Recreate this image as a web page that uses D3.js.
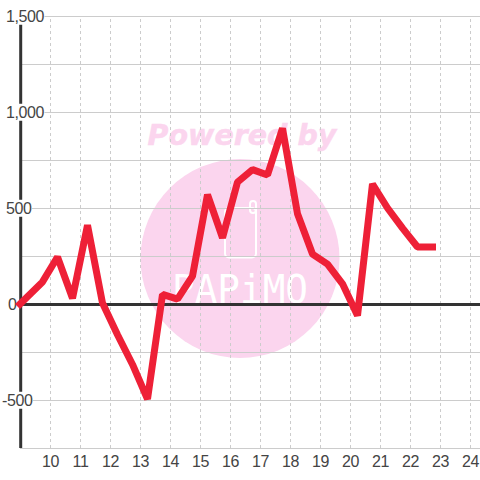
<!DOCTYPE html>
<html><head><meta charset="utf-8">
<script src="https://cdn.jsdelivr.net/npm/d3@7/dist/d3.min.js"></script>
<style>html,body{margin:0;padding:0;background:#fff}svg{display:block}text{font-family:"Liberation Sans",Arial,sans-serif}</style>
</head><body><svg id="c" width="480" height="480"></svg>
<script>
const hours=[9,9.75,10.25,10.75,11.25,11.75,12.25,12.75,13.25,13.75,14.25,14.75,15.25,15.75,16.25,16.75,17.25,17.75,18.25,18.75,19.25,19.75,20.25,20.75,21.25,21.75,22.25,22.75];
const values=[0,115,245,30,410,5,-160,-315,-495,50,25,145,570,345,635,700,672,915,470,260,208,105,-60,625,500,395,297,297];
const xTicks=[10,11,12,13,14,15,16,17,18,19,20,21,22,23,24];
const yGrid=[1500,1250,1000,750,500,250,0,-250,-500,-750];
const yLabels=[1500,1000,500,0,-500];
const watermarkTop="Powered by";
const watermarkLogo="PAPiMO";

const svg=d3.select("#c");
const x=d3.scaleLinear().domain([9,9+460/30]).range([20,480]);
const y=d3.scaleLinear().domain([1500,-750]).range([16,448]);
const grid="#cccccc";

// watermark
const wm=svg.append("g");
wm.append("circle").attr("cx",240).attr("cy",258.5).attr("r",99.5).attr("fill","#fbd5ee");
wm.append("text").attr("x",242).attr("y",145).attr("text-anchor","middle").attr("font-size",28.5).attr("font-weight",700).attr("font-style","italic").attr("fill","#fbd5ee").attr("stroke","#fbd5ee").attr("stroke-width",0.5).style("font-family","DejaVu Sans").text(watermarkTop);
wm.append("rect").attr("x",225).attr("y",208).attr("width",31).attr("height",49.5).attr("rx",4).attr("fill","none").attr("stroke","#fff").attr("stroke-width",2);
wm.append("rect").attr("x",250).attr("y",201).attr("width",6).attr("height",12).attr("rx",3).attr("fill","none").attr("stroke","#fff").attr("stroke-width",2);
wm.append("text").attr("x",172).attr("y",303).attr("font-size",39).attr("textLength",136).attr("lengthAdjust","spacingAndGlyphs").attr("fill","#fff").style("font-family","DejaVu Sans Mono").text(watermarkLogo);

// vertical dashed grid
svg.append("g").attr("transform","translate(0,448)")
 .call(d3.axisBottom(x).tickValues(xTicks).tickSize(-432).tickPadding(5).tickFormat(d3.format("d")))
 .call(g=>g.select(".domain").remove())
 .call(g=>g.selectAll(".tick line").attr("stroke",grid).attr("stroke-dasharray","3,3"))
 .call(g=>g.selectAll(".tick text").attr("font-size",16).attr("fill","#444").attr("dy","0.9em").style("letter-spacing","-0.4px").style("font-family","Liberation Sans"));

// horizontal grid
svg.append("g").attr("transform","translate(480,0)")
 .call(d3.axisLeft(y).tickValues(yGrid).tickSize(460).tickFormat(""))
 .call(g=>g.select(".domain").remove())
 .call(g=>g.selectAll(".tick line").attr("stroke",grid).attr("stroke-width",1));

// axes
svg.append("line").attr("x1",x(9)+0.7).attr("x2",x(9)+0.7).attr("y1",y(1500)).attr("y2",y(-750)).attr("stroke","#333").attr("stroke-width",3);
svg.append("line").attr("x1",x(9)).attr("x2",480).attr("y1",y(0)+0.5).attr("y2",y(0)+0.5).attr("stroke","#333").attr("stroke-width",3);

// y labels with white plate
const fmt=d3.format(",");
const labelLeft={1500:6,1000:6,500:6,0:8,"-500":2};
const lab=svg.append("g").selectAll("g").data(yLabels).join("g").attr("transform",d=>`translate(${labelLeft[d]},${y(d)})`);
lab.append("text").attr("font-size",16).attr("fill","#444").attr("dy","0.36em").style("letter-spacing","-0.4px").text(d=>fmt(d).replace("−","-"))
 .each(function(){const b=this.getBBox();d3.select(this.parentNode).insert("rect","text").attr("x",b.x-1).attr("y",b.y).attr("width",b.width+1).attr("height",b.height).attr("fill","#fff");});

// line
svg.append("path").datum(hours.map((h,i)=>[h,values[i]]))
 .attr("d",d3.line().x(d=>x(d[0])).y(d=>y(d[1])))
 .attr("fill","none").attr("stroke","#ee2037").attr("stroke-width",7).attr("stroke-linejoin","bevel").attr("stroke-linecap","square");
</script></body></html>
